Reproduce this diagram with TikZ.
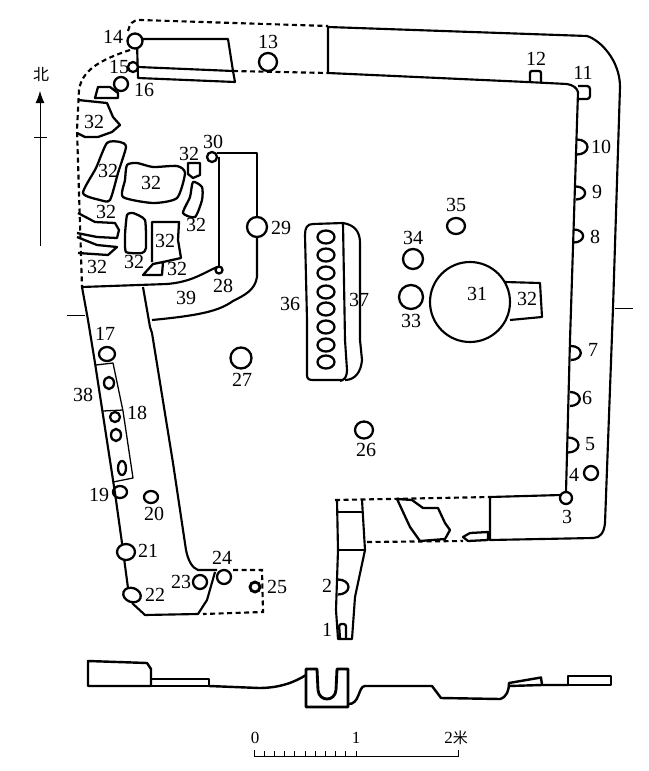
\documentclass[tikz,border=0pt]{standalone}
\usepackage{fontspec}
\setmainfont{Liberation Serif}
\newfontfamily\cjkfont{Noto Sans CJK SC}
\usetikzlibrary{arrows.meta}
\tikzset{
	wall/.style={line width=0.75mm, line join=round},
	thinwall/.style={line width=0.45mm, line join=round},
	dashwall/.style={line width=0.75mm, dash pattern=on 5pt off 3.5pt},
	hole/.style={line width=0.8mm},
	stone/.style={line width=0.8mm, line join=round},
	section/.style={line width=0.85mm, line join=round},
	num/.style={inner sep=0pt, font=\fontsize{20}{20}\selectfont},
	scalenum/.style={inner sep=0pt, font=\fontsize{17}{17}\selectfont},
	tick/.style={line width=0.3mm},
}
\def\dhole(#1,#2)(#3){\draw[hole] (#1,{#2-#3}) .. controls ({#1+0.8*#3},{#2-#3}) and ({#1+1.4*#3},{#2-0.55*#3}) .. ({#1+1.4*#3},#2) .. controls ({#1+1.4*#3},{#2+0.55*#3}) and ({#1+0.8*#3},{#2+#3}) .. (#1,{#2+#3});}
\begin{document}
\begin{tikzpicture}[x=1pt,y=-1pt]
	\useasboundingbox (0,0) rectangle (648,771);
	%%%%% OUTER WALL %%%%%
	\draw[wall] (328,27) -- (587,36) .. controls (600,40) and (620,60) .. (620,87) -- (613,308) -- (605,523) .. controls (604,533) and (600,538) .. (593,538) -- (490,540) -- (490,497) -- (561,495);
	\draw[wall] (328,27) -- (328,73) -- (527,82) -- (567,84) .. controls (573,85) and (577,88) .. (578,92) -- (570,340) -- (566,492);
	\draw[dashwall] (128,31) .. controls (130,24) and (132,20) .. (140,20) -- (328,26);
	\draw[dashwall] (130,50) .. controls (100,60) and (82,70) .. (79,90) -- (77,130) -- (82,287);
	\draw[dashwall] (233,71) -- (328,73);
	\draw[dashwall] (335,500) -- (490,497);
	\draw[dashwall] (367,542) -- (463,541);
	%%%%% NORTH BLOCK %%%%%
	\draw[wall] (143,39) -- (228,39) -- (233,71) -- (235,82) -- (138,78) -- (137,43);
	\draw[wall] (138,67) -- (233,71);
	%%%%% SOUTH STUB %%%%%
	\draw[wall] (337,500) -- (338,550) -- (336,610) -- (338,639) -- (352,639) -- (355,597) -- (365,550) -- (362,500);
	\draw[thinwall] (337,512) -- (362,512);
	\draw[thinwall] (338,550) -- (365,550);
	%%%%% WEST ROOM %%%%%
	\draw[wall] (217,267) .. controls (200,275) and (190,282) .. (167,284) -- (82,287) -- (88,320) -- (95,363) -- (115,493) -- (122,543) -- (128,588);
	\draw[wall] (132,603) -- (145,615) -- (198,614) -- (207,600) -- (215,572);
	\draw[wall] (143,287) -- (150,327) -- (152,333) -- (173,463) -- (186,550) .. controls (188,560) and (192,568) .. (198,570) -- (217,570);
	\draw[dashwall] (233,570) -- (262,570) -- (263,612) -- (203,614);
	\draw[wall] (217,153) -- (257,153) -- (257,218);
	\draw[wall] (257,237) -- (257,277) .. controls (255,290) and (245,295) .. (233,301) .. controls (220,310) and (205,315) .. (152,320);
	\draw[wall] (219,157) -- (219,267);
	%%%%% STONES %%%%%
	\draw[stone] (98,87) -- (110,87) -- (118,93) -- (118,98) -- (95,98) -- cycle;
	\draw[stone] (78,100) -- (107,103) -- (113,117) -- (120,125) -- (112,132) -- (98,137) -- (85,137) -- (77,133);
	\draw[stone] plot[smooth cycle, tension=0.4] coordinates {(107,143) (120,142) (126,147) (118,173) (110,200) (100,200) (83,193) (96,168)};
	\draw[stone] plot[smooth cycle, tension=0.4] coordinates {(127,165) (137,163) (153,167) (177,166) (185,173) (177,198) (153,203) (123,197) (125,180)};
	\draw[stone] (188,163) -- (200,163) -- (200,175) -- (193,178) -- (188,174) -- cycle;
	\draw[stone] plot[smooth cycle, tension=0.4] coordinates {(193,182) (202,187) (202,200) (195,217) (183,213) (190,197)};
	\draw[stone] (78,213) -- (95,222) -- (115,223) -- (119,230) -- (117,238) -- (97,237) -- (77,233);
	\draw[stone] (77,237) -- (97,245) -- (117,247) -- (108,255) -- (78,253);
	\draw[stone] plot[smooth cycle, tension=0.3] coordinates {(127,215) (133,213) (145,220) (146,248) (142,253) (126,252) (125,235)};
	\draw[stone] (152,262) -- (152,222) -- (179,222) -- (178,240) -- (181,258) -- (163,262);
	\draw[stone] (143,275) -- (153,264) -- (163,262) -- (162,275) -- cycle;
	\draw[stone] (397,499) -- (412,500) -- (423,508) -- (438,508) -- (445,523) -- (450,530) -- (445,539) -- (420,541) -- (410,527) -- cycle;
	\draw[stone] (463,537) -- (470,533) -- (488,532) -- (488,540) -- (468,541) -- cycle;
	%%%%% HOLES %%%%%
	\draw[hole, rounded corners=2.5pt] (340,639) -- (339,624) -- (346,624) -- (346,638);
	\dhole(338,587)(7.5)
	\draw[hole, fill=white] (566,498) circle (6);
	\draw[hole] (591,473) circle (7);
	\dhole(568,445)(7.5)
	\dhole(570,399)(7)
	\dhole(571,353)(7)
	\dhole(574,236)(6.5)
	\dhole(576,193)(6.5)
	\dhole(577,147)(7.5)
	\draw[hole, rounded corners=3pt] (578,86) -- (590,86) -- (590,99) -- (578,99);
	\draw[hole, rounded corners=2pt] (530,82) -- (530,71) -- (541,71) -- (541,82);
	\draw[hole] (268,62) ellipse (9 and 9);
	\draw[hole, fill=white] (135,41) circle (7.5);
	\draw[hole, fill=white] (133,67) circle (5);
	\draw[hole, fill=white] (121,84) circle (7);
	\draw[hole, fill=white] (212,157) circle (5);
	\draw[hole, fill=white] (257,227) circle (10);
	\draw[hole, fill=white] (219,270) circle (3.5);
	\draw[hole] (241,358) circle (10.5);
	\draw[hole] (364,430) ellipse (9 and 8.5);
	\draw[hole] (411,297) circle (12);
	\draw[hole] (413,259) circle (10);
	\draw[hole] (456,226) ellipse (9 and 8);
	\draw[hole] (107,354) ellipse (8 and 7);
	\draw[hole] (109,383) ellipse (5 and 6);
	\draw[hole] (115,417) ellipse (5 and 5);
	\draw[hole] (116,435) ellipse (5 and 6);
	\draw[hole] (122,468) ellipse (4 and 7);
	\draw[hole] (120,492) ellipse (7 and 6);
	\draw[hole] (151,497) ellipse (7 and 6);
	\draw[hole, fill=white] (126,552) ellipse (9 and 8);
	\draw[hole, fill=white, rotate around={-20:(132,595)}] (132,595) ellipse (9 and 7);
	\draw[hole] (200,582) circle (7);
	\draw[hole] (224,577) circle (7);
	\draw[hole, line width=1mm] (255,587) circle (5);
	%%%%% PIT AND BENCH %%%%%
	\draw[wall] (470,302) circle (40);
	\draw[wall] (505,282) -- (540,283) -- (542,317) -- (510,320);
	\draw[wall] (313,224) .. controls (307,224) and (305,228) .. (305,235) -- (307,320) -- (307,375) .. controls (307,379) and (309,380) .. (313,380) -- (343,380);
	\draw[wall] (313,224) -- (343,223) -- (345,340) -- (347,370) .. controls (347,376) and (345,380) .. (340,381);
	\draw[wall] (343,223) .. controls (355,225) and (360,232) .. (360,243) -- (360,340) -- (362,360) .. controls (361,372) and (355,380) .. (345,380);
	\foreach \oy in {237,255,273,292,309,327,345,362}
		\draw[hole] (326,\oy) ellipse (8.5 and 6.5);
	%%%%% RECTANGLES 38 %%%%%
	\draw[thinwall] (96,365) -- (113,363) -- (123,411) -- (133,478) -- (113,482);
	\draw[thinwall] (103,411) -- (123,410);
	%%%%% NUMBERS %%%%%
	\node[num] (n1) at (327,630) {1};
	\node[num] (n2) at (327,586) {2};
	\node[num] (n3) at (567,517) {3};
	\node[num] (n4) at (574,475) {4};
	\node[num] (n5) at (590,444) {5};
	\node[num] (n6) at (587,398) {6};
	\node[num] (n7) at (593,350) {7};
	\node[num] (n8) at (595,237) {8};
	\node[num] (n9) at (597,192) {9};
	\node[num] (n10) at (601,147) {10};
	\node[num] (n11) at (583,73) {11};
	\node[num] (n12) at (536,59) {12};
	\node[num] (n13) at (268,42) {13};
	\node[num] (n14) at (113,37) {14};
	\node[num] (n15) at (119,67) {15};
	\node[num] (n16) at (144,90) {16};
	\node[num] (n17) at (105,334) {17};
	\node[num] (n18) at (137,413) {18};
	\node[num] (n19) at (99,495) {19};
	\node[num] (n20) at (154,514) {20};
	\node[num] (n21) at (148,551) {21};
	\node[num] (n22) at (155,595) {22};
	\node[num] (n23) at (181,582) {23};
	\node[num] (n24) at (222,558) {24};
	\node[num] (n25) at (277,587) {25};
	\node[num] (n26) at (366,450) {26};
	\node[num] (n27) at (242,380) {27};
	\node[num] (n28) at (223,286) {28};
	\node[num] (n29) at (281,228) {29};
	\node[num] (n30) at (213,142) {30};
	\node[num] (n31) at (477,294) {31};
	\node[num] (n32a) at (527,299) {32};
	\node[num] (n32b) at (94,122) {32};
	\node[num] (n32c) at (108,171) {32};
	\node[num] (n32d) at (151,183) {32};
	\node[num] (n32e) at (189,154) {32};
	\node[num] (n32f) at (196,225) {32};
	\node[num] (n32g) at (106,212) {32};
	\node[num] (n32h) at (97,267) {32};
	\node[num] (n32i) at (134,262) {32};
	\node[num] (n32j) at (165,241) {32};
	\node[num] (n32k) at (177,269) {32};
	\node[num] (n33) at (411,321) {33};
	\node[num] (n34) at (413,238) {34};
	\node[num] (n35) at (456,205) {35};
	\node[num] (n36) at (290,304) {36};
	\node[num] (n37) at (359,300) {37};
	\node[num] (n38) at (83,395) {38};
	\node[num] (n39) at (186,298) {39};
	%%%%% NORTH ARROW AND TICKS %%%%%
	\node[num, font=\cjkfont\fontsize{16}{16}\selectfont] (north) at (41,74) {北};
	\coordinate (arrowtop) at (40,91);
	\coordinate (arrowend) at (40,246);
	\draw[tick, -{Latex[length=12pt,width=9pt]}] (arrowend) -- (arrowtop);
	\draw[tick] (34,137) -- (47,137);
	\draw[tick] (67,315) -- (85,315);
	\draw[tick] (615,308) -- (633,308);
	%%%%% SECTION %%%%%
	\draw[section] (88,661) -- (147,663) -- (151,669) -- (151,686) -- (88,686) -- cycle;
	\draw[section] (151,679) -- (209,679) -- (209,686) -- (151,686);
	\draw[section] (209,686) -- (259,688) .. controls (280,688) and (295,682) .. (306,675);
	\draw[section, line width=1mm] (306,669) -- (317,669) -- (318,690) .. controls (319,702) and (335,702) .. (336,690) -- (337,669) -- (348,669) -- (348,707) -- (306,707) -- cycle;
	\draw[section] (348,704) .. controls (360,705) and (358,686) .. (365,686) -- (432,686) -- (441,698) -- (500,699) .. controls (507,697) and (509,690) .. (509,683) -- (541,677.5) -- (542,685) -- (568,685);
	\draw[section] (509,686) -- (542,685);
	\draw[section] (568,676) -- (611,676) -- (611,685) -- (568,685) -- cycle;
	%%%%% SCALE %%%%%
	\draw[tick] (254,750) -- (254,756) -- (458,756) -- (458,750);
	\foreach \tx in {1,...,10}
		\draw[tick] ({254+10.2*\tx},751) -- ({254+10.2*\tx},756);
	\node[scalenum] (s0) at (255,738) {0};
	\node[scalenum] (s1) at (356,738) {1};
	\node[scalenum] (s2) at (456,738) {2{\cjkfont\fontsize{15}{15}\selectfont 米}};
\end{tikzpicture}
\end{document}
